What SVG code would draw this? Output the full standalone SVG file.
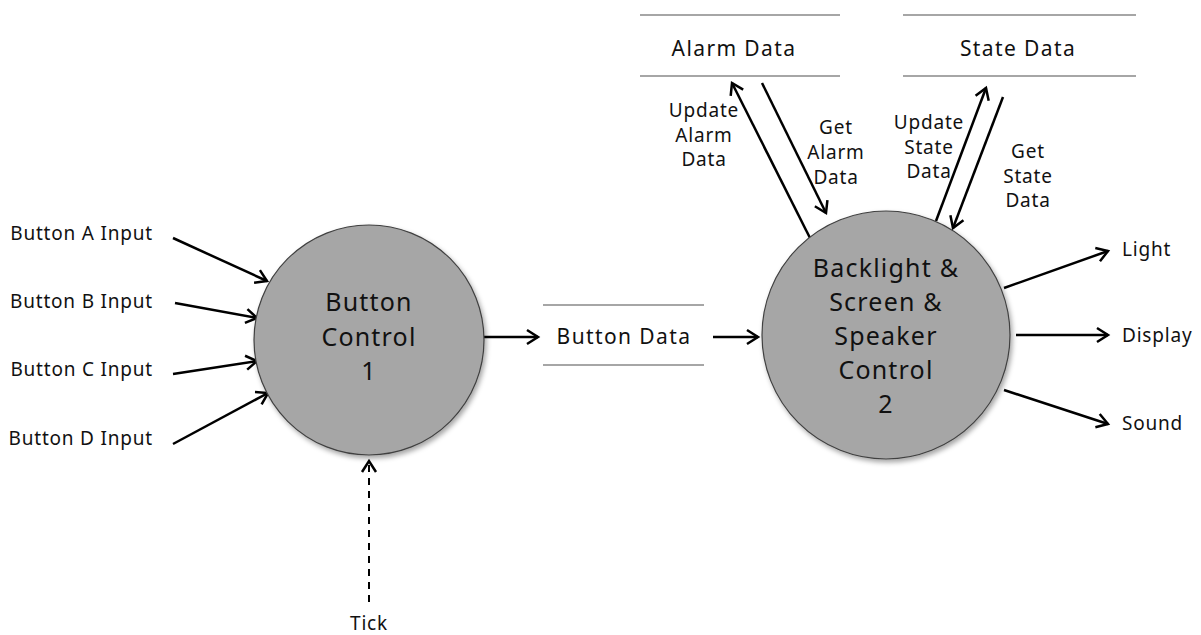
<svg xmlns="http://www.w3.org/2000/svg" width="1201" height="635" viewBox="0 0 1201 635">
<defs>
<style>
.lbl{font-family:"Noto Sans","Open Sans",sans-serif;font-size:19px;letter-spacing:0.8px;fill:#111}
.big{font-family:"Noto Sans","Open Sans",sans-serif;font-size:25px;letter-spacing:1.2px;fill:#111;text-anchor:middle}
.store-t{font-family:"Noto Sans","Open Sans",sans-serif;font-size:21px;letter-spacing:1.4px;fill:#111;text-anchor:middle}
.store{stroke:#a6a6a6;stroke-width:2}
.proc{fill:#a6a6a6;stroke:#404040;stroke-width:1.2}
.flow{stroke:#000;stroke-width:2.5;fill:none;marker-end:url(#ah)}
.dash{stroke:#000;stroke-width:2;fill:none;stroke-dasharray:7,6;marker-end:url(#ah)}
.mid{text-anchor:middle}
.end{text-anchor:end}
</style>
<marker id="ah" markerUnits="userSpaceOnUse" markerWidth="16" markerHeight="18" refX="12" refY="8" orient="auto" viewBox="0 0 16 16">
<path d="M1,1 L12,8 L1,15" fill="none" stroke="#000" stroke-width="2.5"/>
</marker>
<filter id="sh" x="-20%" y="-20%" width="140%" height="140%">
<feDropShadow dx="2" dy="3" stdDeviation="2.5" flood-color="#000" flood-opacity="0.35"/>
</filter>
</defs>
<rect width="1201" height="635" fill="#fff"/>

<g id="connectors">
<line class="flow" x1="173" y1="238" x2="267" y2="281"/>
<line class="flow" x1="175" y1="303" x2="257" y2="318"/>
<line class="flow" x1="173" y1="374" x2="257" y2="361"/>
<line class="flow" x1="173" y1="444" x2="268" y2="393"/>
<line class="dash" x1="369" y1="602" x2="369" y2="461"/>
<line class="flow" x1="484" y1="337" x2="538" y2="337"/>
<line class="flow" x1="713" y1="337" x2="758" y2="337"/>
<line class="flow" x1="810" y1="238" x2="732" y2="83"/>
<line class="flow" x1="762" y1="83" x2="826" y2="213"/>
<line class="flow" x1="936" y1="221" x2="986" y2="88"/>
<line class="flow" x1="1003" y1="97" x2="953" y2="228"/>
<line class="flow" x1="1004" y1="288" x2="1108" y2="251"/>
<line class="flow" x1="1016" y1="335" x2="1108" y2="335"/>
<line class="flow" x1="1004" y1="390" x2="1108" y2="424"/>
</g>

<g id="labels">
<text class="lbl end" x="153" y="240">Button A Input</text>
<text class="lbl end" x="153" y="308">Button B Input</text>
<text class="lbl end" x="153" y="376">Button C Input</text>
<text class="lbl end" x="153" y="445">Button D Input</text>
<text class="lbl mid" x="369" y="630">Tick</text>
<text class="lbl mid"><tspan x="704" y="117">Update</tspan><tspan x="704" y="142">Alarm</tspan><tspan x="704" y="166">Data</tspan></text>
<text class="lbl mid"><tspan x="836" y="134">Get</tspan><tspan x="836" y="159">Alarm</tspan><tspan x="836" y="184">Data</tspan></text>
<text class="lbl mid"><tspan x="929" y="129">Update</tspan><tspan x="929" y="154">State</tspan><tspan x="929" y="178">Data</tspan></text>
<text class="lbl mid"><tspan x="1028" y="158">Get</tspan><tspan x="1028" y="183">State</tspan><tspan x="1028" y="207">Data</tspan></text>
<text class="lbl" x="1122" y="256">Light</text>
<text class="lbl" x="1122" y="342">Display</text>
<text class="lbl" x="1122" y="430">Sound</text>
</g>

<g id="button-control">
<circle class="proc" cx="369" cy="340" r="115" filter="url(#sh)"/>
<text class="big"><tspan x="369" y="311">Button</tspan><tspan x="369" y="346">Control</tspan><tspan x="369" y="380">1</tspan></text>
</g>

<g id="output-control">
<circle class="proc" cx="886" cy="335" r="124" filter="url(#sh)"/>
<text class="big"><tspan x="886" y="277">Backlight &amp;</tspan><tspan x="886" y="311">Screen &amp;</tspan><tspan x="886" y="345">Speaker</tspan><tspan x="886" y="379">Control</tspan><tspan x="886" y="413">2</tspan></text>
</g>

<g id="button-data">
<line class="store" x1="543" y1="305" x2="704" y2="305"/>
<line class="store" x1="543" y1="365" x2="704" y2="365"/>
<text class="store-t" x="624" y="344">Button Data</text>
</g>

<g id="alarm-data">
<line class="store" x1="640" y1="15" x2="840" y2="15"/>
<line class="store" x1="640" y1="76" x2="840" y2="76"/>
<text class="store-t" x="734" y="56">Alarm Data</text>
</g>

<g id="state-data">
<line class="store" x1="903" y1="15" x2="1136" y2="15"/>
<line class="store" x1="903" y1="76" x2="1136" y2="76"/>
<text class="store-t" x="1018" y="56">State Data</text>
</g>
</svg>
